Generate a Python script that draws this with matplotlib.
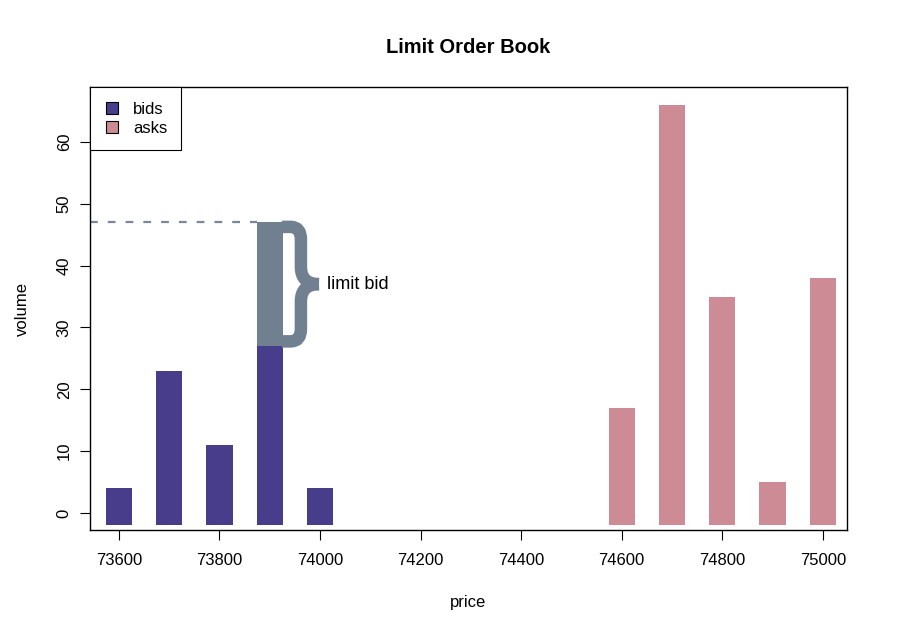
import matplotlib.pyplot as plt
from matplotlib.path import Path
from matplotlib.patches import PathPatch
from matplotlib.lines import Line2D

plt.rcParams['font.family'] = ['Liberation Sans', 'DejaVu Sans']

# order book snapshot
bid_price = [73600, 73700, 73800, 73900, 74000]
bid_vol = [4, 23, 11, 27, 4]
ask_price = [74600, 74700, 74800, 74900, 75000]
ask_vol = [17, 66, 35, 5, 38]
limit_price = 73900
limit_vol = 20  # new limit bid stacked on top of the 73900 level

bid_col = '#483D8B'
ask_col = '#CD8C95'
lim_col = '#708090'
w = 52      # bar width in price units
base = -2   # bars hang a little below zero, like R's type="h"

fig = plt.figure(figsize=(9, 6.24), dpi=100)
ax = fig.add_axes([0.0997, 0.151, 0.8414, 0.709])

ax.bar(bid_price, [v - base for v in bid_vol], bottom=base, width=w, color=bid_col, linewidth=0)
ax.bar(ask_price, [v - base for v in ask_vol], bottom=base, width=w, color=ask_col, linewidth=0)

lvl = bid_vol[bid_price.index(limit_price)]
top = lvl + limit_vol
ax.bar([limit_price], [limit_vol], bottom=lvl, width=w, color=lim_col, linewidth=0)

ax.set_xlim(73542, 75048)
ax.set_ylim(-2.7, 68.8)

# dashed line at the new level
ax.plot([ax.get_xlim()[0], limit_price - w / 2], [top, top], ls=(0, (3.5, 4.5)), color='#7d8894', lw=1.6)

# curly brace next to the limit bid
x0 = limit_price + w / 2 - 2
xm = x0 + 38
xt = x0 + 74
ym = (lvl + top) / 2
yt = top - 0.75
yb = lvl + 0.75
for y_end, s in [(yt, 1), (yb, -1)]:
    verts = [(x0, y_end), (xm - 20, y_end), (xm, y_end), (xm, y_end - s * 2.0),
             (xm, ym + s * 2.8), (xm, ym), (xt, ym)]
    codes = [Path.MOVETO, Path.LINETO, Path.CURVE3, Path.CURVE3,
             Path.LINETO, Path.CURVE3, Path.CURVE3]
    ax.add_patch(PathPatch(Path(verts, codes), fill=False, edgecolor=lim_col,
                           lw=9, capstyle='butt', joinstyle='round'))
ax.text(xt + 16, ym, 'limit bid', fontsize=13, va='center', ha='left')

ax.set_xticks(range(73600, 75001, 200))
ax.set_yticks(range(0, 61, 10))
ax.tick_params(axis='both', direction='out', length=7, width=0.8, labelsize=12)
ax.tick_params(axis='x', pad=10)
ax.tick_params(axis='y', pad=6)
for lab in ax.get_yticklabels():
    lab.set_rotation(90)
    lab.set_va('center')
for sp in ax.spines.values():
    sp.set_linewidth(1)

ax.set_xlabel('price', fontsize=12, va='center')
ax.xaxis.set_label_coords(0.5, -0.165)
ax.set_ylabel('volume', fontsize=12, va='center')
ax.yaxis.set_label_coords(-0.089, 0.5)
ax.set_title('Limit Order Book', fontsize=14.5, fontweight='bold', y=1.089, va='center', pad=0)

handles = [Line2D([], [], ls='none', marker='s', markersize=9, markerfacecolor=bid_col, markeredgecolor='black', markeredgewidth=0.8),
           Line2D([], [], ls='none', marker='s', markersize=9, markerfacecolor=ask_col, markeredgecolor='black', markeredgewidth=0.8)]
leg = ax.legend(handles, ['bids', 'asks'], loc='upper left', borderaxespad=0, fontsize=12,
                fancybox=False, edgecolor='black', framealpha=1, handlelength=1.0,
                handletextpad=0.75, labelspacing=0.28, borderpad=0.85)
leg.get_frame().set_linewidth(0.8)

fig.savefig('out.png', dpi=100)
